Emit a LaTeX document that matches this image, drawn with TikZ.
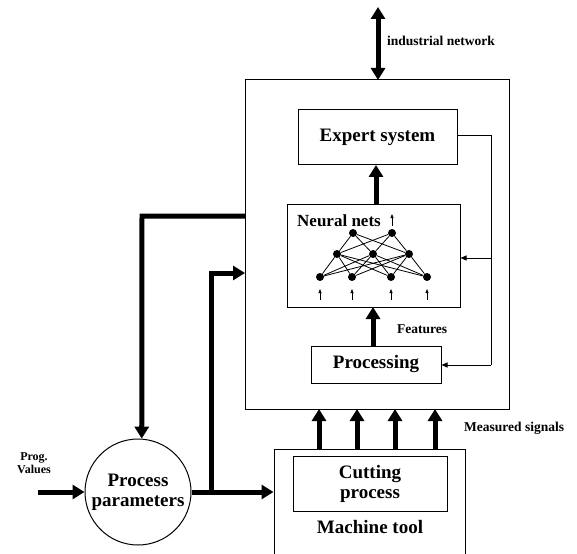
\documentclass[tikz,border=0pt]{standalone}
\usepackage{fontspec}
\setmainfont{Liberation Serif}
\usetikzlibrary{arrows.meta}
\begin{document}
\begin{tikzpicture}[x=1pt,y=-1pt,
  box/.style={draw, line width=1pt, inner sep=0pt},
  big/.style={font=\fontsize{19}{20}\selectfont\bfseries, align=center},
  small/.style={font=\fontsize{13.5}{14}\selectfont\bfseries, inner sep=0pt},
  bigarrow/.style={line width=5pt, -{Triangle[width=14pt,length=12pt]}},
  thinarrow/.style={line width=1pt, -{Triangle[width=5pt,length=6pt]}},
  tinyarrow/.style={line width=0.7pt, -{Triangle[width=3pt,length=4pt]}},
  neuron/.style={circle, fill=black, minimum size=8pt, inner sep=0pt},
  syn/.style={line width=0.8pt}
]
\useasboundingbox (0,0) rectangle (577,553);

% boxes
\node[box, minimum width=264pt, minimum height=329pt] (outer) at (377,244.5) {};
\node[box, big, minimum width=159pt, minimum height=55pt] (expert) at (377.5,137.5) {Expert system};
\node[box, minimum width=173pt, minimum height=103pt] (neural) at (373.5,255.5) {};
\node[box, big, minimum width=130pt, minimum height=37pt] (proc) at (376,364.5) {Processing};
\node[box, minimum width=191pt, minimum height=111pt] (machine) at (369.5,504.5) {};
\node[box, big, minimum width=154pt, minimum height=55pt] (cut) at (370,483.5) {Cutting\\process};
\node[big, inner sep=0pt] (mtl) at (370,527) {Machine tool};
\node[draw, line width=1pt, circle, minimum size=106pt, inner sep=0pt, big] (pp) at (138,492) {Process\\parameters};

% labels
\node[small, anchor=west] (inet) at (387,41) {industrial network};
\node[small, anchor=west] (feat) at (397,329) {Features};
\node[small, anchor=west] (meas) at (464,428) {Measured signals};
\node[font=\fontsize{12}{13}\selectfont\bfseries, align=center, inner sep=0pt] (prog) at (34,463) {Prog.\\Values};

% neural net drawing
\node[font=\fontsize{17}{18}\selectfont\bfseries, anchor=west, inner sep=0pt] (nntext) at (297,221) {Neural nets};
\node[neuron] (t1) at (353,233) {};
\node[neuron] (t2) at (392,233) {};
\node[neuron] (m1) at (337,254) {};
\node[neuron] (m2) at (373,254) {};
\node[neuron] (m3) at (409,254) {};
\node[neuron] (b1) at (320,277) {};
\node[neuron] (b2) at (352,277) {};
\node[neuron] (b3) at (391,277) {};
\node[neuron] (b4) at (427,277) {};
\foreach \a in {t1,t2}{\foreach \b in {m1,m2,m3}{\draw[syn] (\a) -- (\b);}}
\foreach \a in {m1,m2,m3}{\foreach \b in {b1,b2,b3,b4}{\draw[syn] (\a) -- (\b);}}
\coordinate (outA) at (392,226);
\coordinate (outB) at (392,214);
\draw[tinyarrow] (outA) -- (outB);
\foreach \x/\n in {320/1,352/2,391/3,427/4}{
  \coordinate (in\n a) at (\x,300);
  \coordinate (in\n b) at (\x,289);
  \draw[tinyarrow] (in\n a) -- (in\n b);
}

% top network arrow
\coordinate (nettop) at (378,7);
\coordinate (netbot) at (378,80);
\draw[line width=5pt, {Triangle[width=14pt,length=12pt]}-{Triangle[width=14pt,length=12pt]}] (nettop) -- (netbot);

% internal thick arrows
\coordinate (nnTop) at (376,204);
\coordinate (exBot) at (376,165);
\draw[bigarrow] (nnTop) -- (exBot);
\coordinate (prTop) at (373,346);
\coordinate (nnBot) at (373,307);
\draw[bigarrow] (prTop) -- (nnBot);

% measured signals
\foreach \x/\n in {319/1,357/2,395/3,435/4}{
  \coordinate (ms\n a) at (\x,449);
  \coordinate (ms\n b) at (\x,409);
  \draw[bigarrow] (ms\n a) -- (ms\n b);
}

% feedback
\coordinate (fbR) at (491,136);
\coordinate (fbM) at (491,258);
\draw[line width=1pt] (expert.east |- fbR) -- (fbR) -- (491,365);
\draw[thinarrow] (491,365) -- (proc.east |- 0,365);
\draw[thinarrow] (fbM) -- (neural.east |- fbM);

% left connections
\coordinate (lA) at (245,216);
\coordinate (lB) at (142,216);
\draw[bigarrow] (lA) -- (lB) -- (pp.86);
\draw[bigarrow] (pp.east) -- (machine.west |- pp.east);
\coordinate (brA) at (211,494.5);
\coordinate (brB) at (211,273);
\coordinate (brC) at (245,273);
\draw[bigarrow] (brA) -- (brB) -- (brC);
\coordinate (pv) at (38,492);
\draw[bigarrow] (pv) -- (pp.west);
\end{tikzpicture}
\end{document}
